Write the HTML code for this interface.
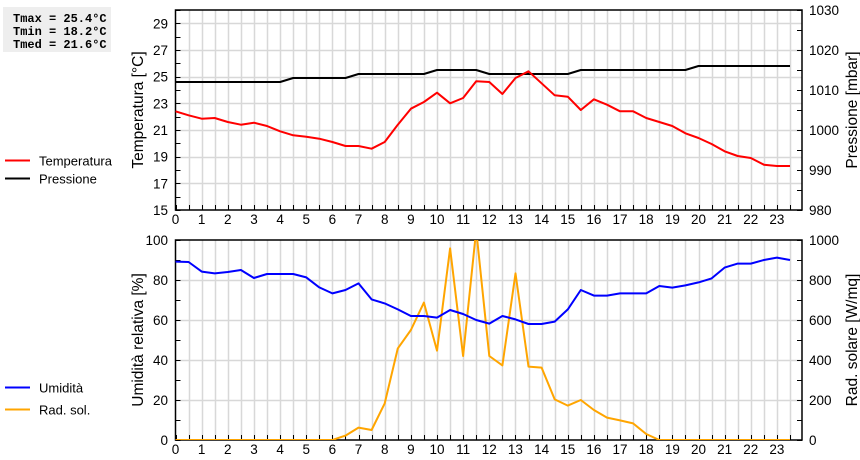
<!DOCTYPE html>
<html><head><meta charset="utf-8">
<style>
html,body{margin:0;padding:0;background:#fff;}
svg{display:block;font-family:"Liberation Sans",sans-serif;}
.stats{position:absolute;left:3px;top:7px;width:108px;height:45px;background:#eeeeee;font-family:"Liberation Mono",monospace;font-weight:bold;font-size:12px;line-height:13px;padding:6px 0 0 10px;box-sizing:border-box;white-space:pre;}
</style></head>
<body>
<div style="position:relative;width:860px;height:460px;">
<div class="stats">Tmax = 25.4°C
Tmin = 18.2°C
Tmed = 21.6°C</div>
<svg id="c" width="860" height="460" xmlns="http://www.w3.org/2000/svg"></svg>
</div>
<script>
const hours = [0,0.5,1,1.5,2,2.5,3,3.5,4,4.5,5,5.5,6,6.5,7,7.5,8,8.5,9,9.5,10,10.5,11,11.5,12,12.5,13,13.5,14,14.5,15,15.5,16,16.5,17,17.5,18,18.5,19,19.5,20,20.5,21,21.5,22,22.5,23,23.5];
const temperature = [22.4,22.1,21.85,21.9,21.6,21.4,21.55,21.3,20.9,20.6,20.5,20.35,20.1,19.8,19.8,19.6,20.1,21.4,22.6,23.1,23.8,23.0,23.4,24.65,24.6,23.7,24.9,25.4,24.5,23.6,23.5,22.5,23.3,22.9,22.4,22.4,21.9,21.6,21.3,20.75,20.4,19.95,19.4,19.05,18.9,18.4,18.3,18.3];
const pressure = [1012,1012,1012,1012,1012,1012,1012,1012,1012,1013,1013,1013,1013,1013,1014,1014,1014,1014,1014,1014,1015,1015,1015,1015,1014,1014,1014,1014,1014,1014,1014,1015,1015,1015,1015,1015,1015,1015,1015,1015,1016,1016,1016,1016,1016,1016,1016,1016];
const humidity = [89.2,89,84.2,83.3,84,85,81,83,83,83,81.3,76.3,73.3,75,78.3,70.3,68.3,65.3,62,62,61.2,65,63,60,58.2,62,60.3,58,58,59.2,65.3,75,72.2,72.2,73.3,73.3,73.3,77,76.2,77.3,78.8,80.8,86.2,88.2,88.2,90,91.2,90];
const radiation = [0,0,0,0,0,0,0,0,0,0,0,0,0,22,62,50,183,458,550,687,447,958,420,1050,420,373,833,367,362,203,172,200,150,112,98,83,30,0,0,0,0,0,0,0,0,0,0,0];
const xTicks = [0,1,2,3,4,5,6,7,8,9,10,11,12,13,14,15,16,17,18,19,20,21,22,23];
const tempTicks = [15,17,19,21,23,25,27,29];
const pressTicks = [980,990,1000,1010,1020,1030];
const humTicks = [0,20,40,60,80,100];
const radTicks = [0,200,400,600,800,1000];

const NS="http://www.w3.org/2000/svg";
const svg=document.getElementById('c');
const X0=175.5, X1=802, HW=26.15;
function xs(h){return X0+h*HW;}
function mk(tag,attrs,parent){const e=document.createElementNS(NS,tag);for(const k in attrs)e.setAttribute(k,attrs[k]);(parent||svg).appendChild(e);return e;}
function txt(s,x,y,anchor,size,parent){const t=mk('text',{x:x,y:y,'text-anchor':anchor,'font-size':size,fill:'#000'},parent);t.textContent=s;return t;}

function panel(name,top,bot,lmin,lmax,lTicks,lMinorStep,lGridStep,rmin,rmax,rTicks,rMinorStep,lTitle,rTitle){
  const g=mk('g',{});
  
  
  const yl=v=>bot-(v-lmin)/(lmax-lmin)*(bot-top);
  const yr=v=>bot-(v-rmin)/(rmax-rmin)*(bot-top);
  for(let h=0.5;h<=23.5;h+=0.5){const x=Math.round(xs(h))+0.5;mk('line',{x1:x,x2:x,y1:top,y2:bot,stroke:'#d8d8d8','stroke-width':1.5},g);}
  for(let v=lmin+lGridStep;v<lmax;v+=lGridStep){const y=Math.round(yl(v))+0.5;mk('line',{x1:X0,x2:X1,y1:y,y2:y,stroke:'#d8d8d8','stroke-width':1.5},g);}
  for(let v=lmin;v<=lmax;v+=lMinorStep){const y=Math.round(yl(v))+0.5;mk('line',{x1:X0,x2:X0+5,y1:y,y2:y,stroke:'#000'},g);}
  for(let v=rmin;v<=rmax;v+=rMinorStep){const y=Math.round(yr(v))+0.5;mk('line',{x1:X1-5,x2:X1,y1:y,y2:y,stroke:'#000'},g);}
  for(let h=0;h<=23.5;h+=0.5){const x=Math.round(xs(h))+0.5;mk('line',{x1:x,x2:x,y1:bot-5,y2:bot,stroke:'#000'},g);}
  mk('rect',{x:X0,y:top,width:X1-X0,height:bot-top,fill:'none',stroke:'#000','stroke-width':1.5},g);
  lTicks.forEach(v=>{const t=txt(String(v),168,yl(v)+5,'end',13.5,g);});
  rTicks.forEach(v=>{const t=txt(String(v),809,yr(v)+5,'start',13.5,g);});
  xTicks.forEach(h=>{const t=txt(String(h),xs(h),bot+14,'middle',13.5,g);});
  const mid=(top+bot)/2;
  const lt=txt(lTitle,0,0,'middle',15.5,g);lt.setAttribute('transform','translate(143,'+mid+') rotate(-90)');
  
  const rt=txt(rTitle,0,0,'middle',15.5,g);rt.setAttribute('transform','translate(857,'+mid+') rotate(-90)');
  
  return {yl,yr,g,top,bot};
}
function series(p,vals,scale,color,name,clipId){
  const pts=vals.map((v,i)=>xs(hours[i]).toFixed(1)+','+scale(v).toFixed(1)).join(' ');
  const pl=mk('polyline',{points:pts,fill:'none',stroke:color,'stroke-width':2,'stroke-linejoin':'round','clip-path':'url(#'+clipId+')'},p.g);
  
  
}
const defs=mk('defs',{});
const c1=mk('clipPath',{id:'clipTop'},defs);mk('rect',{x:X0,y:10,width:X1-X0,height:200},c1);
const c2=mk('clipPath',{id:'clipBot'},defs);mk('rect',{x:X0,y:240,width:X1-X0,height:200},c2);

const p1=panel('temperature-pressure-chart',10,210,15,30,tempTicks,1,2,980,1030,pressTicks,5,'Temperatura [°C]','Pressione [mbar]');
series(p1,pressure,p1.yr,'#000','pressure-line','clipTop');
series(p1,temperature,p1.yl,'#ff0000','temperature-line','clipTop');
const p2=panel('humidity-radiation-chart',240,440,0,100,humTicks,10,20,0,1000,radTicks,100,'Umidità relativa [%]','Rad. solare [W/mq]');
series(p2,radiation,p2.yr,'#ffa500','radiation-line','clipBot');
series(p2,humidity,p2.yl,'#0000ff','humidity-line','clipBot');

function legend(y,color,label,name){
  const g=mk('g',{});
  
  
  mk('line',{x1:5,x2:30,y1:y,y2:y,stroke:color,'stroke-width':2},g);
  txt(label,39,y+5,'start',13,g);
}
legend(160.5,'#ff0000','Temperatura','legend-temperatura');
legend(178.5,'#000','Pressione','legend-pressione');
legend(387.5,'#0000ff','Umidità','legend-umidita');
legend(409.5,'#ffa500','Rad. sol.','legend-rad-sol');
</script>
</body></html>
